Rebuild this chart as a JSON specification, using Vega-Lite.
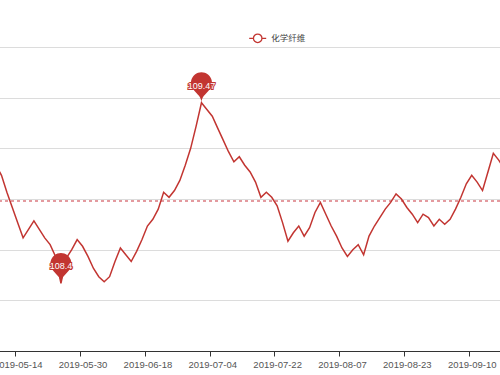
{
  "$schema": "https://vega.github.io/schema/vega-lite/v6.json",
  "autosize": "none",
  "width": 500,
  "height": 304,
  "padding": {"left": 0, "top": 47, "right": 0, "bottom": 24},
  "background": "white",
  "config": {"view": {"stroke": null}, "font": "Liberation Sans"},
  "data": {"values": [
    {"date": "2019-05-08", "value": 109.10},
    {"date": "2019-05-09", "value": 109.04},
    {"date": "2019-05-10", "value": 108.94},
    {"date": "2019-05-13", "value": 108.85},
    {"date": "2019-05-14", "value": 108.76},
    {"date": "2019-05-15", "value": 108.67},
    {"date": "2019-05-16", "value": 108.72},
    {"date": "2019-05-17", "value": 108.77},
    {"date": "2019-05-20", "value": 108.72},
    {"date": "2019-05-21", "value": 108.67},
    {"date": "2019-05-22", "value": 108.63},
    {"date": "2019-05-23", "value": 108.56},
    {"date": "2019-05-24", "value": 108.40},
    {"date": "2019-05-27", "value": 108.55},
    {"date": "2019-05-28", "value": 108.60},
    {"date": "2019-05-29", "value": 108.66},
    {"date": "2019-05-30", "value": 108.62},
    {"date": "2019-05-31", "value": 108.56},
    {"date": "2019-06-03", "value": 108.49},
    {"date": "2019-06-04", "value": 108.44},
    {"date": "2019-06-05", "value": 108.41},
    {"date": "2019-06-06", "value": 108.44},
    {"date": "2019-06-10", "value": 108.53},
    {"date": "2019-06-11", "value": 108.61},
    {"date": "2019-06-12", "value": 108.57},
    {"date": "2019-06-13", "value": 108.53},
    {"date": "2019-06-14", "value": 108.59},
    {"date": "2019-06-17", "value": 108.66},
    {"date": "2019-06-18", "value": 108.74},
    {"date": "2019-06-19", "value": 108.78},
    {"date": "2019-06-20", "value": 108.84},
    {"date": "2019-06-21", "value": 108.94},
    {"date": "2019-06-24", "value": 108.91},
    {"date": "2019-06-25", "value": 108.95},
    {"date": "2019-06-26", "value": 109.01},
    {"date": "2019-06-27", "value": 109.10},
    {"date": "2019-06-28", "value": 109.20},
    {"date": "2019-07-01", "value": 109.33},
    {"date": "2019-07-02", "value": 109.47},
    {"date": "2019-07-03", "value": 109.43},
    {"date": "2019-07-04", "value": 109.39},
    {"date": "2019-07-05", "value": 109.32},
    {"date": "2019-07-08", "value": 109.25},
    {"date": "2019-07-09", "value": 109.18},
    {"date": "2019-07-10", "value": 109.12},
    {"date": "2019-07-11", "value": 109.15},
    {"date": "2019-07-12", "value": 109.10},
    {"date": "2019-07-15", "value": 109.06},
    {"date": "2019-07-16", "value": 109.00},
    {"date": "2019-07-17", "value": 108.91},
    {"date": "2019-07-18", "value": 108.94},
    {"date": "2019-07-19", "value": 108.91},
    {"date": "2019-07-22", "value": 108.86},
    {"date": "2019-07-23", "value": 108.76},
    {"date": "2019-07-24", "value": 108.65},
    {"date": "2019-07-25", "value": 108.70},
    {"date": "2019-07-26", "value": 108.74},
    {"date": "2019-07-29", "value": 108.68},
    {"date": "2019-07-30", "value": 108.73},
    {"date": "2019-07-31", "value": 108.82},
    {"date": "2019-08-01", "value": 108.88},
    {"date": "2019-08-02", "value": 108.81},
    {"date": "2019-08-05", "value": 108.74},
    {"date": "2019-08-06", "value": 108.68},
    {"date": "2019-08-07", "value": 108.61},
    {"date": "2019-08-08", "value": 108.56},
    {"date": "2019-08-09", "value": 108.60},
    {"date": "2019-08-12", "value": 108.63},
    {"date": "2019-08-13", "value": 108.57},
    {"date": "2019-08-14", "value": 108.68},
    {"date": "2019-08-15", "value": 108.74},
    {"date": "2019-08-16", "value": 108.79},
    {"date": "2019-08-19", "value": 108.84},
    {"date": "2019-08-20", "value": 108.88},
    {"date": "2019-08-21", "value": 108.93},
    {"date": "2019-08-22", "value": 108.90},
    {"date": "2019-08-23", "value": 108.85},
    {"date": "2019-08-26", "value": 108.81},
    {"date": "2019-08-27", "value": 108.76},
    {"date": "2019-08-28", "value": 108.81},
    {"date": "2019-08-29", "value": 108.79},
    {"date": "2019-08-30", "value": 108.74},
    {"date": "2019-09-02", "value": 108.78},
    {"date": "2019-09-03", "value": 108.75},
    {"date": "2019-09-04", "value": 108.78},
    {"date": "2019-09-05", "value": 108.84},
    {"date": "2019-09-06", "value": 108.91},
    {"date": "2019-09-09", "value": 108.99},
    {"date": "2019-09-10", "value": 109.04},
    {"date": "2019-09-11", "value": 109.00},
    {"date": "2019-09-12", "value": 108.95},
    {"date": "2019-09-16", "value": 109.06},
    {"date": "2019-09-17", "value": 109.17},
    {"date": "2019-09-18", "value": 109.13},
    {"date": "2019-09-19", "value": 109.08}
  ]},
  "layer": [
    {
      "mark": {"type": "rule", "color": "#e29a9d", "opacity": 1, "strokeWidth": 1, "strokeDash": [3, 3]},
      "encoding": {
        "y": {"datum": 108.89, "type": "quantitative"}
      }
    },
    {
      "mark": {"type": "line", "color": "#c23531", "strokeWidth": 1.5, "clip": true},
      "encoding": {
        "x": {
          "field": "date", "type": "ordinal", "sort": null,
          "scale": {"type": "point", "padding": 0, "range": [-3.92, 504.15]},
          "axis": {
            "title": null,
            "values": ["2019-05-14", "2019-05-30", "2019-06-18", "2019-07-04", "2019-07-22", "2019-08-07", "2019-08-23", "2019-09-10"],
            "grid": false,
            "domainColor": "#333", "domainWidth": 1,
            "tickColor": "#333", "tickSize": 5, "tickOffset": -2.7, "labelOffset": 2.7,
            "labelColor": "#555", "labelFontSize": 9.5, "labelFont": "Liberation Sans",
            "labelAngle": 0, "labelPadding": 3, "labelOverlap": false
          }
        },
        "y": {
          "field": "value", "type": "quantitative",
          "scale": {"domain": [108, 109.8], "nice": false, "zero": false},
          "axis": {
            "title": null,
            "values": [108, 108.3, 108.6, 108.9, 109.2, 109.5, 109.8],
            "grid": true, "gridColor": "#dcdcdc", "gridWidth": 1,
            "domain": false, "ticks": false, "labels": false
          }
        },
        "color": {
          "datum": "化学纤维", "type": "nominal",
          "scale": {"range": ["#c23531"]},
          "legend": {
            "orient": "none", "legendX": 248.2, "legendY": -18.2, "title": null,
            "symbolType": "M-1,0L-0.5,0M0.5,0L1,0M-0.5,0A0.5,0.5,0,1,1,0.5,0A0.5,0.5,0,1,1,-0.5,0",
            "symbolSize": 289, "symbolStrokeWidth": 1.3, "symbolFillColor": "white",
            "labelFont": "Noto Sans CJK SC", "labelFontSize": 8.5, "labelColor": "#444", "labelOffset": 4
          }
        }
      }
    },
    {
      "transform": [
        {"joinaggregate": [{"op": "max", "field": "value", "as": "vmax"}, {"op": "min", "field": "value", "as": "vmin"}]},
        {"filter": "datum.value === datum.vmax || datum.value === datum.vmin"}
      ],
      "encoding": {
        "x": {"field": "date", "type": "ordinal", "sort": null},
        "y": {"field": "value", "type": "quantitative"}
      },
      "layer": [
        {
          "mark": {"type": "point", "filled": true, "opacity": 1, "color": "#c23531", "size": 1225,
            "shape": "M-0.5421,-0.8858A0.6,0.6,0,1,1,0.5421,-0.8858C0.3878,-0.5605,0,-0.42,0,0C0,-0.42,-0.3878,-0.5605,-0.5421,-0.8858Z"}
        },
        {
          "mark": {"type": "text", "dy": -17, "color": "#c23531", "stroke": "#c23531", "strokeWidth": 2, "fontSize": 9, "font": "Liberation Sans", "baseline": "middle", "align": "center"},
          "encoding": {
            "text": {"field": "value", "type": "quantitative", "format": ".2~f"}
          }
        },
        {
          "mark": {"type": "text", "dy": -17, "color": "white", "fontSize": 9, "font": "Liberation Sans", "baseline": "middle", "align": "center"},
          "encoding": {
            "text": {"field": "value", "type": "quantitative", "format": ".2~f"}
          }
        }
      ]
    }
  ]
}
